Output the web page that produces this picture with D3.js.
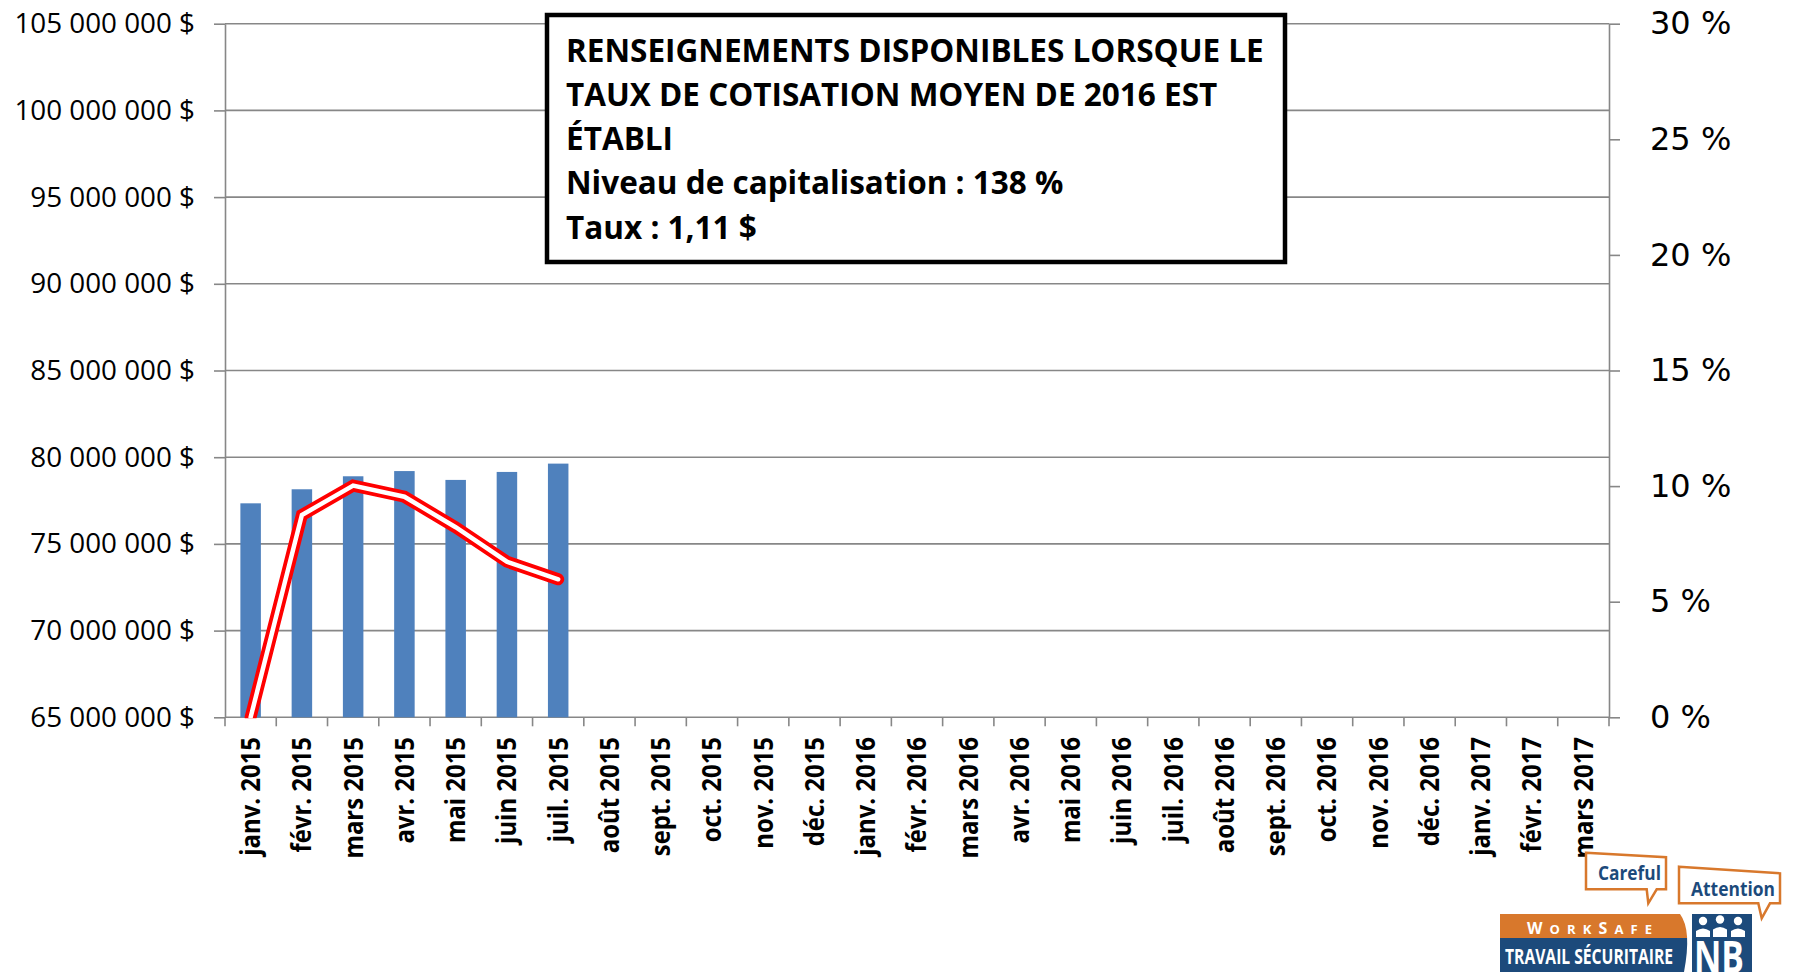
<!DOCTYPE html>
<html>
<head>
<meta charset="utf-8">
<script src="https://cdnjs.cloudflare.com/ajax/libs/d3/7.8.5/d3.min.js"></script>
<style>
  body { margin: 0; background: #fff; }
</style>
</head>
<body>
<div id="chart"></div>
<script>
var months = ["janv. 2015", "févr. 2015", "mars 2015", "avr. 2015", "mai 2015", "juin 2015",
  "juil. 2015", "août 2015", "sept. 2015", "oct. 2015", "nov. 2015", "déc. 2015",
  "janv. 2016", "févr. 2016", "mars 2016", "avr. 2016", "mai 2016", "juin 2016",
  "juil. 2016", "août 2016", "sept. 2016", "oct. 2016", "nov. 2016", "déc. 2016",
  "janv. 2017", "févr. 2017", "mars 2017"];
// cotisations ($), only janv. -> juil. 2015 are known
var cotisations = [77340000, 78150000, 78900000, 79200000, 78690000, 79150000, 79630000];
// rate (%), right axis
var taux = [0, 8.75, 10.02, 9.54, 8.22, 6.73, 5.97];
var leftTicks = [65000000, 70000000, 75000000, 80000000, 85000000, 90000000, 95000000, 100000000, 105000000];
var rightTicks = [0, 5, 10, 15, 20, 25, 30];
var boxLines = ["RENSEIGNEMENTS DISPONIBLES LORSQUE LE",
  "TAUX DE COTISATION MOYEN DE 2016 EST",
  "ÉTABLI",
  "Niveau de capitalisation : 138 %",
  "Taux : 1,11 $"];

var W = 1793, H = 972;
// note: "top" is reserved on window, so plot edges get a prefix
var pLeft = 225, pRight = 1609, pTop = 23.7, pBottom = 717.3;
var gridColor = "#878787", gridW = 1.6;

var svg = d3.select("#chart").append("svg")
  .attr("width", W).attr("height", H)
  .style("display", "block");
svg.append("rect").attr("width", W).attr("height", H).attr("fill", "#fff");

var x = d3.scaleBand().domain(months).range([pLeft, pRight]);
var y = d3.scaleLinear().domain([65000000, 105000000]).range([pBottom, pTop]);
var y2 = d3.scaleLinear().domain([0, 30]).range([pBottom, pTop]);

// gridlines
svg.append("g").selectAll("line")
  .data(leftTicks).enter().append("line")
  .attr("x1", pLeft).attr("x2", pRight)
  .attr("y1", function(d){ return y(d); })
  .attr("y2", function(d){ return y(d); })
  .attr("stroke", gridColor).attr("stroke-width", gridW);

// left axis
var fmt = d3.format(",");
var gl = svg.append("g").attr("transform", "translate(" + pLeft + ",0)")
  .call(d3.axisLeft(y).tickValues(leftTicks).tickSize(11).tickSizeOuter(0).tickPadding(19)
    .tickFormat(function(d){ return fmt(d).replace(/,/g, " ") + " $"; }));
gl.select(".domain").attr("stroke", gridColor).attr("stroke-width", gridW);
gl.selectAll(".tick line").attr("stroke", gridColor).attr("stroke-width", gridW);
gl.selectAll("text").attr("font-family", "'Open Sans'").attr("font-size", 27.8).attr("fill", "#000");

// right axis
var gr = svg.append("g").attr("transform", "translate(" + pRight + ",0)")
  .call(d3.axisRight(y2).tickValues(rightTicks).tickSize(11).tickSizeOuter(0).tickPadding(30)
    .tickFormat(function(d){ return d + " %"; }));
gr.select(".domain").attr("stroke", gridColor).attr("stroke-width", gridW);
gr.selectAll(".tick line").attr("stroke", gridColor).attr("stroke-width", gridW);
gr.selectAll("text").attr("font-family", "'DejaVu Sans'").attr("font-size", 32).attr("fill", "#000");

// category ticks at band boundaries
var bounds = months.map(function(m){ return x(m); }).concat([pRight]);
svg.append("g").selectAll("line")
  .data(bounds).enter().append("line")
  .attr("x1", function(d){ return d; }).attr("x2", function(d){ return d; })
  .attr("y1", pBottom).attr("y2", pBottom + 9)
  .attr("stroke", gridColor).attr("stroke-width", gridW);

// bars
var bw = x.bandwidth() * 0.4;
svg.append("g").selectAll("rect")
  .data(cotisations).enter().append("rect")
  .attr("x", function(d, i){ return x(months[i]) + (x.bandwidth() - bw) / 2; })
  .attr("y", function(d){ return y(d); })
  .attr("width", bw)
  .attr("height", function(d){ return pBottom - y(d); })
  .attr("fill", "#4F81BD");

// rate line: red outline with white core
svg.append("clipPath").attr("id", "plotclip")
  .append("rect").attr("x", pLeft).attr("y", pTop).attr("width", pRight - pLeft).attr("height", pBottom - pTop + 1);
var line = d3.line()
  .x(function(d, i){ return x(months[i]) + x.bandwidth() / 2; })
  .y(function(d){ return y2(d); });
var lg = svg.append("g").attr("clip-path", "url(#plotclip)");
lg.append("path").attr("d", line(taux)).attr("fill", "none")
  .attr("stroke", "#FF0000").attr("stroke-width", 12)
  .attr("stroke-linejoin", "miter").attr("stroke-linecap", "round");
lg.append("path").attr("d", line(taux)).attr("fill", "none")
  .attr("stroke", "#fff").attr("stroke-width", 4.5)
  .attr("stroke-linejoin", "miter").attr("stroke-linecap", "round");

// x labels (slightly condensed along the text to mimic the narrow original face)
svg.append("g").selectAll("text")
  .data(months).enter().append("text")
  .attr("transform", function(d){ return "translate(" + (x(d) + x.bandwidth() / 2) + ",737) rotate(-90) scale(0.92,1)"; })
  .attr("text-anchor", "end")
  .attr("dy", "0.36em")
  .attr("font-family", "'Open Sans'").attr("font-weight", "bold").attr("font-size", 26)
  .attr("fill", "#000")
  .text(function(d){ return d; });

// info box
svg.append("rect")
  .attr("x", 547).attr("y", 15).attr("width", 738).attr("height", 247)
  .attr("fill", "#fff").attr("stroke", "#000").attr("stroke-width", 4.5);
var tg = svg.append("g");
var baselines = [62, 106, 150, 194.5, 239.5];
tg.selectAll("text")
  .data(boxLines).enter().append("text")
  .attr("x", 0).attr("y", function(d, i){ return baselines[i]; })
  .attr("font-family", "'Open Sans'").attr("font-weight", "bold").attr("font-size", 31.5)
  .attr("fill", "#000")
  .text(function(d){ return d; });
var w1 = tg.select("text").node().getComputedTextLength();
tg.attr("transform", "translate(566,0) scale(" + (698 / w1) + ",1)");

// logo (bottom right)
var orange = "#D8782C", navy = "#1C4A7B";
var logo = svg.append("g");
logo.append("path")
  .attr("d", "M1586,852.7 L1666,857.3 L1666,889.3 L1656.7,889.3 L1648.3,903.3 L1646.7,889.3 L1586,889.3 Z")
  .attr("fill", "#fff").attr("stroke", orange).attr("stroke-width", 2.5);
logo.append("text").attr("x", 1598).attr("y", 880)
  .attr("font-family", "'Open Sans'").attr("font-weight", "bold").attr("font-size", 19)
  .attr("fill", navy).attr("textLength", 63).attr("lengthAdjust", "spacingAndGlyphs")
  .text("Careful");
logo.append("path")
  .attr("d", "M1679,866.7 L1780,873.3 L1780,903.3 L1770,903.3 L1761.7,918.3 L1758.3,903.3 L1679,903.3 Z")
  .attr("fill", "#fff").attr("stroke", orange).attr("stroke-width", 2.5);
logo.append("text").attr("x", 1691).attr("y", 896)
  .attr("font-family", "'Open Sans'").attr("font-weight", "bold").attr("font-size", 19.5)
  .attr("fill", navy).attr("textLength", 84).attr("lengthAdjust", "spacingAndGlyphs")
  .text("Attention");
logo.append("rect").attr("x", 1500).attr("y", 914).attr("width", 188).attr("height", 24).attr("fill", orange);
logo.append("rect").attr("x", 1500).attr("y", 938).attr("width", 188).attr("height", 34).attr("fill", navy);
logo.append("path")
  .attr("d", "M1680,914 Q1692,930 1684,972 L1692,972 L1692,914 Z").attr("fill", "#fff");
var ws = logo.append("text").attr("x", 1527).attr("y", 934)
  .attr("font-family", "'Open Sans'").attr("font-weight", "bold").attr("font-size", 16)
  .attr("fill", "#fff").attr("textLength", 125).attr("lengthAdjust", "spacing");
ws.append("tspan").text("W");
ws.append("tspan").attr("font-size", 13).text("ORK");
ws.append("tspan").text("S");
ws.append("tspan").attr("font-size", 13).text("AFE");
logo.append("text").attr("x", 1505).attr("y", 964)
  .attr("font-family", "'Open Sans'").attr("font-weight", "bold").attr("font-size", 21)
  .attr("fill", "#fff").attr("textLength", 168).attr("lengthAdjust", "spacingAndGlyphs")
  .text("TRAVAIL SÉCURITAIRE");
logo.append("rect").attr("x", 1692).attr("y", 914).attr("width", 60).attr("height", 58).attr("fill", navy);
[[1703, 921], [1720, 919.5], [1738, 921]].forEach(function(p){
  logo.append("circle").attr("cx", p[0]).attr("cy", p[1]).attr("r", 4.2).attr("fill", "#fff");
  logo.append("path")
    .attr("d", "M" + (p[0] - 7) + ",940 L" + (p[0] - 7) + "," + (p[1] + 10) + " Q" + p[0] + "," + (p[1] + 5) + " " + (p[0] + 7) + "," + (p[1] + 10) + " L" + (p[0] + 7) + ",940 Z")
    .attr("fill", "#fff");
});
logo.append("rect").attr("x", 1692).attr("y", 937).attr("width", 60).attr("height", 35).attr("fill", navy);
logo.append("text").attr("x", 1694).attr("y", 973)
  .attr("font-family", "'Open Sans'").attr("font-weight", "bold").attr("font-size", 44)
  .attr("fill", "#fff").attr("textLength", 50).attr("lengthAdjust", "spacingAndGlyphs")
  .text("NB");
</script>
</body>
</html>
